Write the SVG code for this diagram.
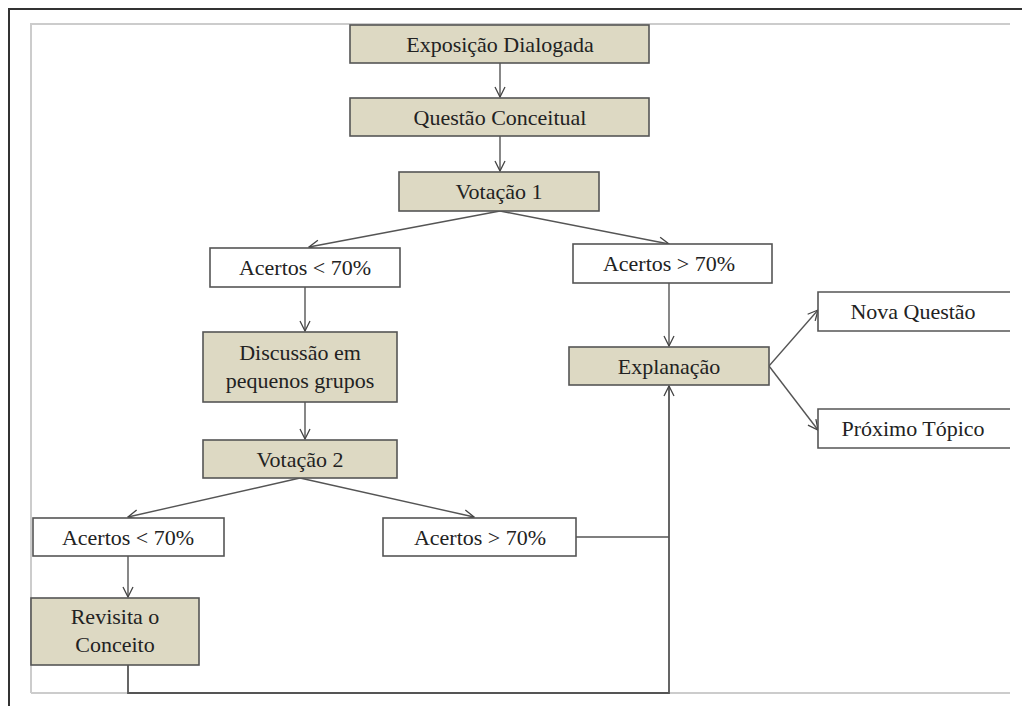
<svg xmlns="http://www.w3.org/2000/svg" width="1022" height="706" viewBox="0 0 1022 706">
<style>
.tan{fill:#ddd9c3;stroke:#555;stroke-width:1.6}
.wht{fill:#fff;stroke:#555;stroke-width:1.6}
.t{font-family:"Liberation Serif","Times New Roman",serif;font-size:22px;fill:#222;text-anchor:middle}
.c{fill:none;stroke:#555;stroke-width:1.4}
</style>
<defs>
<marker id="a" viewBox="0 0 12 12" refX="11" refY="6" markerWidth="12" markerHeight="12" markerUnits="userSpaceOnUse" orient="auto">
<path d="M1,1 L11,6 L1,11" fill="none" stroke="#444" stroke-width="1.3"/>
</marker>
</defs>
<rect width="1022" height="706" fill="#fff"/>
<g id="frame">
<path d="M9,706 V9 H1022" fill="none" stroke="#333" stroke-width="2"/>
<path d="M31,693 V24 H1010 M31,693 H1010" fill="none" stroke="#ccc" stroke-width="2"/>
</g>
<g id="connectors">
<line class="c" x1="500" y1="63" x2="500" y2="97" marker-end="url(#a)"/>
<line class="c" x1="500" y1="136" x2="500" y2="171" marker-end="url(#a)"/>
<line class="c" x1="500" y1="211" x2="309" y2="247" marker-end="url(#a)"/>
<line class="c" x1="500" y1="211" x2="669" y2="244" marker-end="url(#a)"/>
<line class="c" x1="305" y1="287" x2="305" y2="331" marker-end="url(#a)"/>
<line class="c" x1="305" y1="402" x2="305" y2="439" marker-end="url(#a)"/>
<line class="c" x1="669" y1="283" x2="669" y2="346" marker-end="url(#a)"/>
<line class="c" x1="769" y1="366" x2="818" y2="310" marker-end="url(#a)"/>
<line class="c" x1="769" y1="366" x2="818" y2="430" marker-end="url(#a)"/>
<line class="c" x1="300" y1="478" x2="128" y2="517" marker-end="url(#a)"/>
<line class="c" x1="300" y1="478" x2="474" y2="517" marker-end="url(#a)"/>
<line class="c" x1="128" y1="556" x2="128" y2="597" marker-end="url(#a)"/>
<path class="c" d="M576,537 H669"/>
<path class="c" d="M128,665 V693 H669 V386" marker-end="url(#a)" style="stroke-width:1.8"/>
</g>
<g id="n1"><rect class="tan" x="350" y="25" width="299" height="38"/><text class="t" x="500" y="52">Exposição Dialogada</text></g>
<g id="n2"><rect class="tan" x="350" y="98" width="299" height="38"/><text class="t" x="500" y="125">Questão Conceitual</text></g>
<g id="n3"><rect class="tan" x="399" y="172" width="200" height="39"/><text class="t" x="499" y="199">Votação 1</text></g>
<g id="n4"><rect class="wht" x="210" y="248" width="190" height="39"/><text class="t" x="305" y="275">Acertos &lt; 70%</text></g>
<g id="n5"><rect class="wht" x="573" y="244" width="199" height="39"/><text class="t" x="669" y="271">Acertos &gt; 70%</text></g>
<g id="n6"><rect class="tan" x="203" y="332" width="194" height="70"/><text class="t" x="300" y="360">Discussão em</text><text class="t" x="300" y="388">pequenos grupos</text></g>
<g id="n7"><rect class="tan" x="569" y="347" width="200" height="38"/><text class="t" x="669" y="374">Explanação</text></g>
<g id="n8"><path class="wht" d="M1010,292 H818 V331 H1010"/><text class="t" x="913" y="319">Nova Questão</text></g>
<g id="n9"><path class="wht" d="M1010,409 H818 V448 H1010"/><text class="t" x="913" y="436">Próximo Tópico</text></g>
<g id="n10"><rect class="tan" x="203" y="440" width="194" height="38"/><text class="t" x="300" y="467">Votação 2</text></g>
<g id="n11"><rect class="wht" x="33" y="518" width="191" height="38"/><text class="t" x="128" y="545">Acertos &lt; 70%</text></g>
<g id="n12"><rect class="wht" x="383" y="518" width="193" height="38"/><text class="t" x="480" y="545">Acertos &gt; 70%</text></g>
<g id="n13"><rect class="tan" x="31" y="598" width="168" height="67"/><text class="t" x="115" y="624">Revisita o</text><text class="t" x="115" y="652">Conceito</text></g>
</svg>
